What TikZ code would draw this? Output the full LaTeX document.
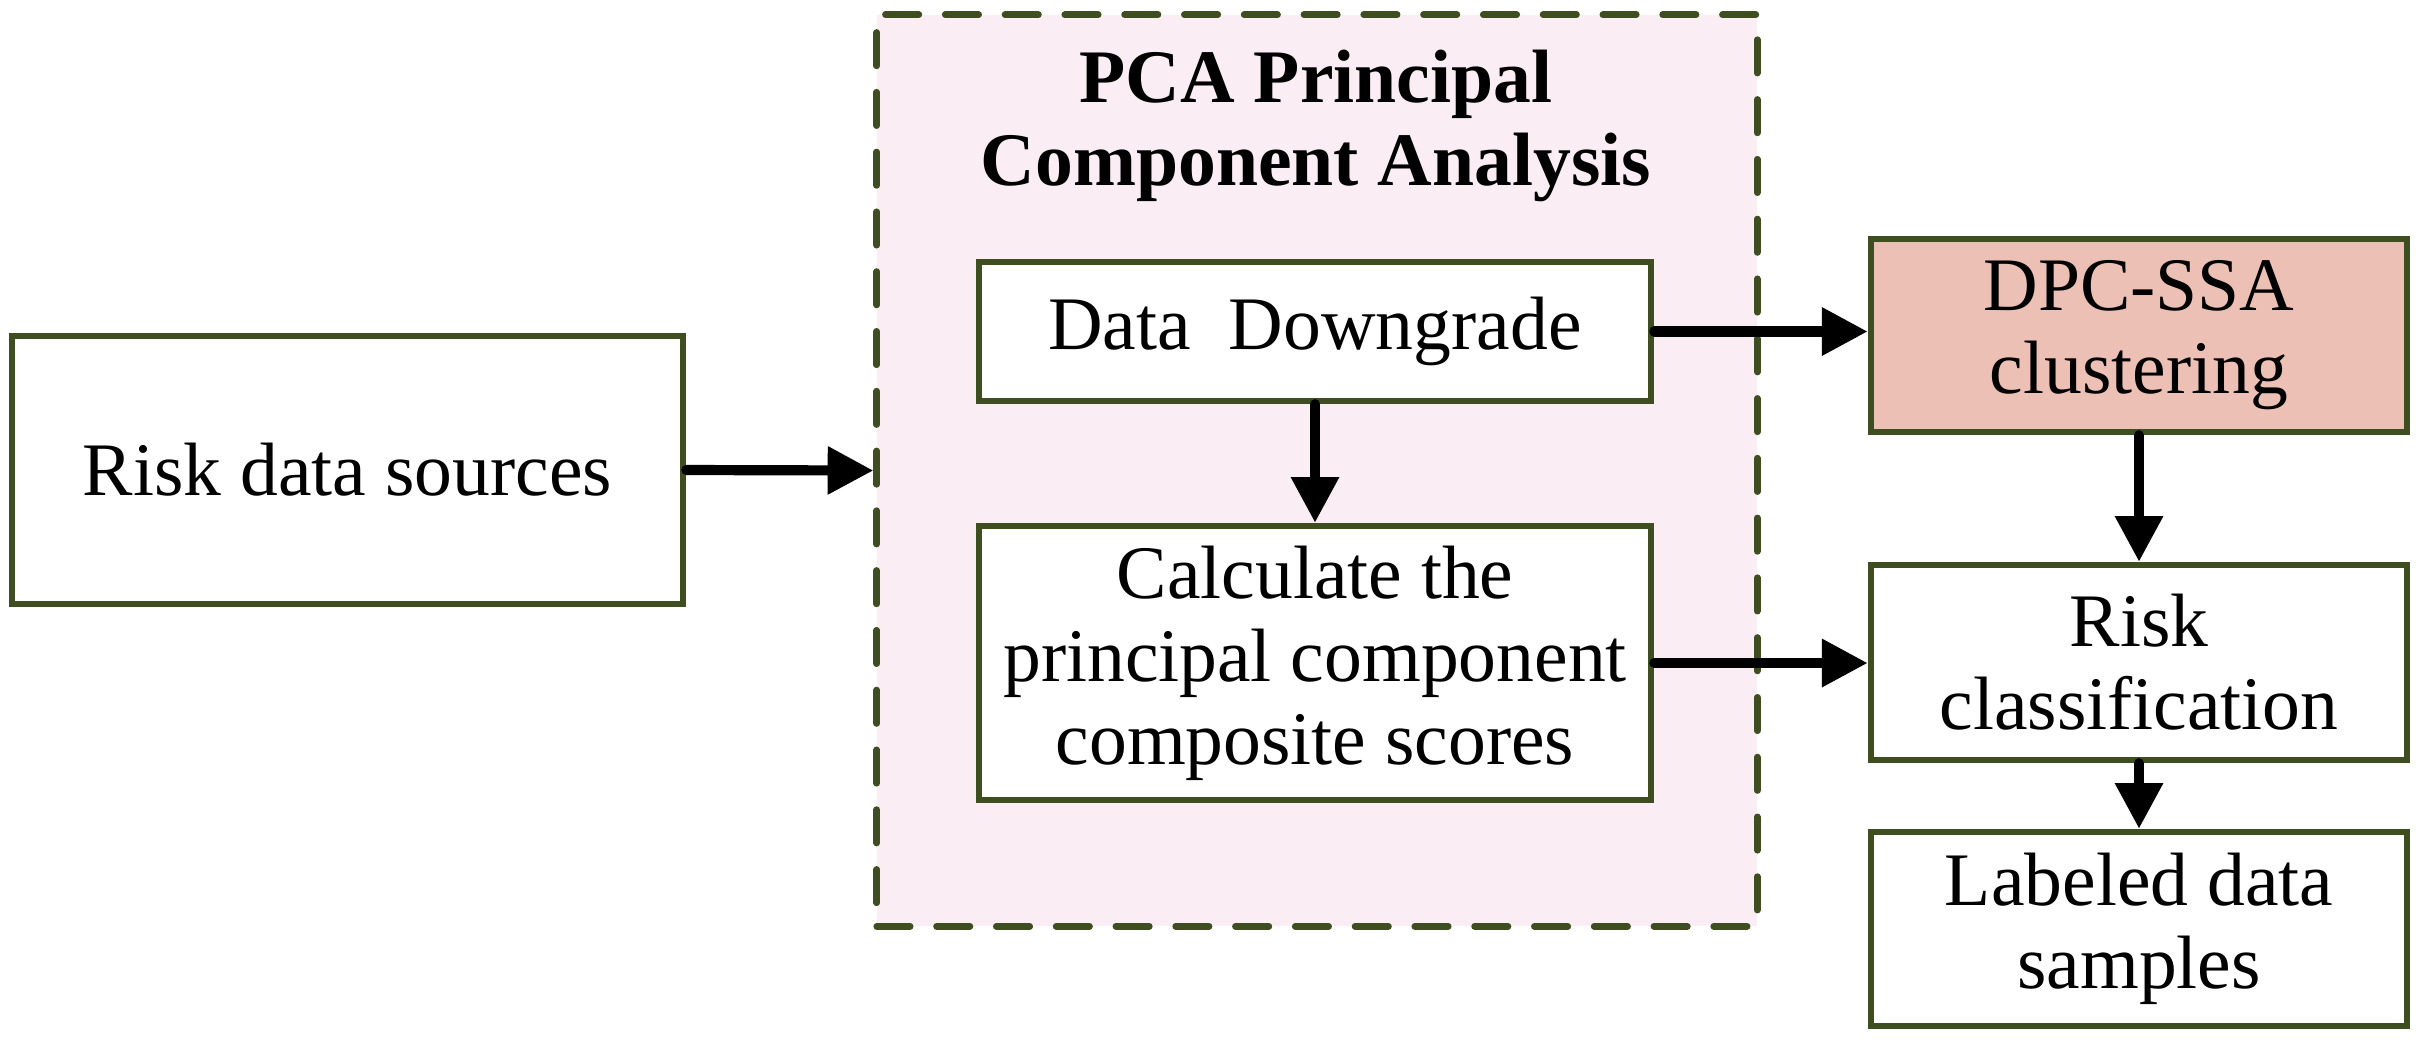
\documentclass[tikz,border=0pt]{standalone}
\usepackage{fontspec}
\setmainfont{Liberation Serif}
\usetikzlibrary{arrows.meta}
\definecolor{bordercol}{RGB}{62,78,33}
\definecolor{pinkbg}{RGB}{251,237,244}
\definecolor{dpcfill}{RGB}{236,192,181}
\begin{document}
\begin{tikzpicture}[x=0.01cm,y=-0.01cm,
  box/.style={draw=bordercol, line width=1.8pt, fill=white, inner sep=0pt, align=center,
    font=\fontsize{21.5}{23.6}\selectfont},
  arr/.style={line width=2.9pt, line cap=round, -{Triangle[length=13pt,width=13pt]}}]
\useasboundingbox (0,0) rectangle (2416,1044);
% dashed PCA group
\node[draw=bordercol, fill=pinkbg, line width=1.9pt, dash pattern=on 9.5pt off 7.5pt,
  line cap=round, minimum width=8.80cm, minimum height=9.11cm, inner sep=0pt]
  (pca) at (1317,470.5) {};
\node[font=\bfseries\fontsize{21.5}{23.6}\selectfont, align=center, inner sep=0pt]
  (title) at (1316,126) {PCA Principal\\Component Analysis};
% boxes
\node[box, minimum width=6.71cm, minimum height=2.68cm] (src) at (347.5,470) {Risk data sources};
\node[box, minimum width=6.72cm, minimum height=1.39cm] (dd) at (1315,331.5) {Data\ \ Downgrade};
\node[box, minimum width=6.72cm, minimum height=2.74cm] (calc) at (1315,663)
  {Calculate the\\principal component\\composite scores};
\node[box, fill=dpcfill, minimum width=5.36cm, minimum height=1.93cm] (dpc) at (2139,335.5)
  {DPC-SSA\\clustering};
\node[box, minimum width=5.36cm, minimum height=1.95cm] (rc) at (2139,662.5)
  {Risk\\classification};
\node[box, minimum width=5.36cm, minimum height=1.94cm] (lab) at (2139,929)
  {Labeled data\\samples};
% arrows
\draw[arr] (src.east) -- (pca.west);
\draw[arr] (dd.east) -- (dpc.west |- dd.east);
\draw[arr] (dd.south) -- (calc.north);
\draw[arr] (calc.east) -- (rc.west |- calc.east);
\draw[arr] (dpc.south) -- (rc.north);
\draw[arr] (rc.south) -- (lab.north);
\end{tikzpicture}
\end{document}
